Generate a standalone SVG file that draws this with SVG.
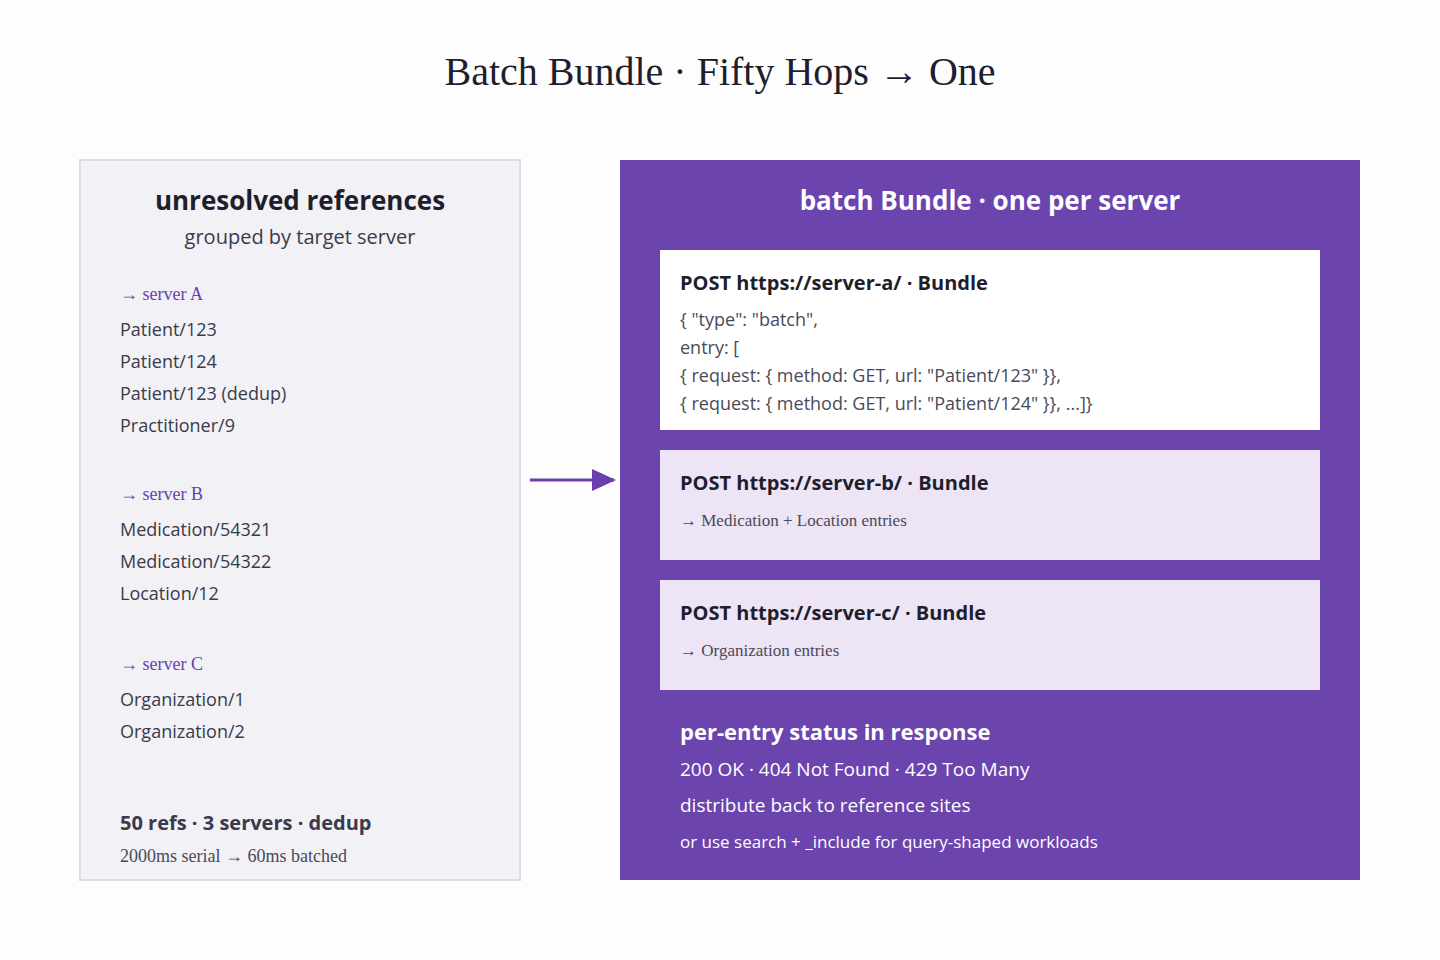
<svg xmlns="http://www.w3.org/2000/svg" width="1440" height="960" viewBox="0 0 1440 960">
<style>
.sans{font-family:"Open Sans","Noto Sans",sans-serif}
.serif{font-family:"Liberation Serif",serif}
.ref{font-family:"Open Sans",sans-serif;font-size:18px;fill:#3a3a4a}
.grp{font-family:"Liberation Serif",serif;font-size:18px;fill:#6b3fae}
.hd{font-family:"Open Sans",sans-serif;font-size:20px;font-weight:700;fill:#1e1e2c}
.code{font-family:"Open Sans",sans-serif;font-size:18px;fill:#4a4a58}
.note{font-family:"Liberation Serif",serif;font-size:17px;fill:#4a4a58}
.w{font-family:"Open Sans",sans-serif;fill:#ffffff}
</style>
<defs><marker id="ah" markerWidth="24" markerHeight="22" refX="22" refY="11" orient="auto" markerUnits="userSpaceOnUse"><path d="M0,0 L24,11 L0,22 Z" fill="#6b3fae"/></marker></defs>
<rect width="1440" height="960" fill="#fdfdfe"/>
<text x="720" y="85" text-anchor="middle" class="serif" font-size="40" fill="#1e1e2c">Batch Bundle · Fifty Hops → One</text>
<g id="left">
<rect x="80" y="160" width="440" height="720" fill="#f1f1f6" stroke="#dcdce4" stroke-width="2"/>
<text x="300" y="210" text-anchor="middle" class="sans" font-size="26" font-weight="700" fill="#1e1e2c">unresolved references</text>
<text x="300" y="244" text-anchor="middle" class="sans" font-size="20" fill="#3a3a4a">grouped by target server</text>
<text x="120" y="300" class="grp">→ server A</text>
<text x="120" y="336" class="ref">Patient/123</text>
<text x="120" y="368" class="ref">Patient/124</text>
<text x="120" y="400" class="ref">Patient/123 (dedup)</text>
<text x="120" y="432" class="ref">Practitioner/9</text>
<text x="120" y="500" class="grp">→ server B</text>
<text x="120" y="536" class="ref">Medication/54321</text>
<text x="120" y="568" class="ref">Medication/54322</text>
<text x="120" y="600" class="ref">Location/12</text>
<text x="120" y="670" class="grp">→ server C</text>
<text x="120" y="706" class="ref">Organization/1</text>
<text x="120" y="738" class="ref">Organization/2</text>
<text x="120" y="830" class="sans" font-size="20" font-weight="700" fill="#3a3a4a">50 refs · 3 servers · dedup</text>
<text x="120" y="862" class="serif" font-size="18" fill="#4a4a58">2000ms serial → 60ms batched</text>
</g>
<g id="connectors"><line x1="530" y1="480" x2="614" y2="480" stroke="#6b3fae" stroke-width="3" marker-end="url(#ah)"/></g>
<g id="right">
<rect x="620" y="160" width="740" height="720" fill="#6b44ae"/>
<text x="990" y="210" text-anchor="middle" class="w" font-size="26" font-weight="700">batch Bundle · one per server</text>
</g>
<g id="bundle-a">
<rect x="660" y="250" width="660" height="180" fill="#ffffff"/>
<text x="680" y="290" class="hd">POST https://server-a/ · Bundle</text>
<text x="680" y="326" class="code">{ "type": "batch",</text>
<text x="680" y="354" class="code">entry: [</text>
<text x="680" y="382" class="code">{ request: { method: GET, url: "Patient/123" }},</text>
<text x="680" y="410" class="code">{ request: { method: GET, url: "Patient/124" }}, ...]}</text>
</g>
<g id="bundle-b">
<rect x="660" y="450" width="660" height="110" fill="#ede4f5"/>
<text x="680" y="490" class="hd">POST https://server-b/ · Bundle</text>
<text x="680" y="526" class="note">→ Medication + Location entries</text>
</g>
<g id="bundle-c">
<rect x="660" y="580" width="660" height="110" fill="#ede4f5"/>
<text x="680" y="620" class="hd">POST https://server-c/ · Bundle</text>
<text x="680" y="656" class="note">→ Organization entries</text>
</g>
<g id="status">
<text x="680" y="740" class="w" font-size="22" font-weight="700">per-entry status in response</text>
<text x="680" y="776" class="w" font-size="19">200 OK · 404 Not Found · 429 Too Many</text>
<text x="680" y="812" class="w" font-size="19">distribute back to reference sites</text>
<text x="680" y="848" class="w" font-size="17">or use search + _include for query-shaped workloads</text>
</g>
</svg>
